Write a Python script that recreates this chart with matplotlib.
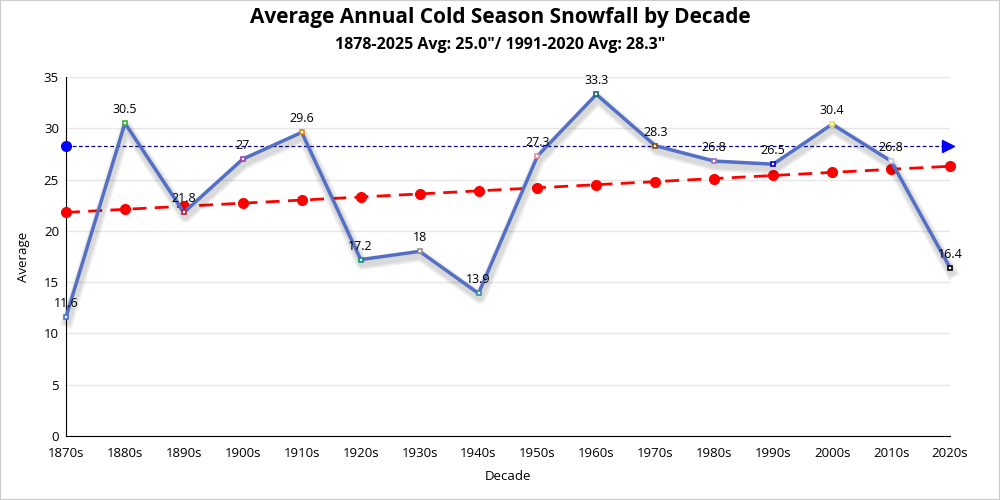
import matplotlib
matplotlib.use("Agg")
import matplotlib.pyplot as plt
import matplotlib.patheffects as pe
from matplotlib.patches import Rectangle

decades = ["1870s", "1880s", "1890s", "1900s", "1910s", "1920s", "1930s", "1940s",
           "1950s", "1960s", "1970s", "1980s", "1990s", "2000s", "2010s", "2020s"]
averages = [11.6, 30.5, 21.8, 27, 29.6, 17.2, 18, 13.9, 27.3, 33.3, 28.3, 26.8, 26.5, 30.4, 26.8, 16.4]
trend = [21.8, 22.1, 22.4, 22.7, 23.0, 23.3, 23.6, 23.9, 24.2, 24.5, 24.8, 25.1, 25.4, 25.7, 26.0, 26.3]
normal_1991_2020 = 28.3
marker_colors = ["#4a6fd1", "#3cb043", "#b0204a", "#a040b0", "#e08a10", "#109080", "#909090", "#3a8aa8",
                 "#e0909a", "#1a6a6a", "#8a4a10", "#9a70c8", "#0000dd", "#e8e060", "#c8c8e8", "#000000"]

plt.rcParams['font.family'] = ['Open Sans', 'DejaVu Sans']

fig = plt.figure(figsize=(10, 5), dpi=100)
fig.patches.append(Rectangle((0, 0), 1, 1, transform=fig.transFigure, fill=False,
                             edgecolor="#cccccc", linewidth=1.5))
ax = fig.add_axes([0.066, 0.128, 0.884, 0.718])
x = list(range(len(decades)))

ax.set_xlim(0, len(decades) - 1)
ax.set_ylim(0, 35)
ax.set_yticks(range(0, 36, 5))
ax.set_xticks(x)
ax.set_xticklabels(decades)
ax.grid(axis='y', color='#e6e6e6', linewidth=1)
ax.set_axisbelow(True)
for s in ['top', 'right']:
    ax.spines[s].set_visible(False)
ax.spines['left'].set_color('black')
ax.spines['bottom'].set_color('black')
ax.tick_params(axis='y', length=0, labelsize=9.5, pad=5)
ax.tick_params(axis='x', length=0, labelsize=9.5, pad=8)
ax.set_xlabel("Decade", fontsize=9.5, labelpad=7)
ax.set_ylabel("Average", fontsize=9.5, labelpad=10)

# normal line
ax.plot([x[0], x[-1]], [normal_1991_2020] * 2, color='#000080', linestyle=(0, (3, 2)),
        linewidth=0.9, zorder=2, clip_on=False)
ax.plot([x[0]], [normal_1991_2020], 'o', color='blue', markersize=7, zorder=5, clip_on=False)
ax.plot([x[-1] - 0.04], [normal_1991_2020], '>', color='blue', markersize=9, zorder=5, clip_on=False)

# trend line
ax.plot(x, trend, color='red', linestyle=(0, (5, 3)), linewidth=2, marker='o', markersize=7,
        zorder=3, clip_on=False)

# main line with soft shadow
shadow = [pe.SimpleLineShadow(offset=(1, -3), shadow_color='black', alpha=0.05, linewidth=w)
          for w in (9, 7, 5)]
ax.plot(x, averages, color='#5470c6', linewidth=2.5, zorder=4, clip_on=False,
        path_effects=shadow + [pe.Normal()])
for xi, yi, c in zip(x, averages, marker_colors):
    ax.plot([xi], [yi], marker='s', markersize=3.2, markerfacecolor='white', markeredgecolor=c,
            markeredgewidth=1.2, zorder=6, clip_on=False)
    ax.annotate(f"{yi:g}", (xi, yi), xytext=(0, 5), textcoords='offset points',
                ha='center', va='bottom', fontsize=9, zorder=7)

fig.text(0.5, 0.966, "Average Annual Cold Season Snowfall by Decade", ha='center', va='center',
         fontsize=15, fontweight='bold')
fig.text(0.5, 0.91, "1878-2025 Avg: 25.0\"/ 1991-2020 Avg: 28.3\"", ha='center', va='center',
         fontsize=11.5, fontweight='bold')

fig.savefig("out.png", dpi=100)
